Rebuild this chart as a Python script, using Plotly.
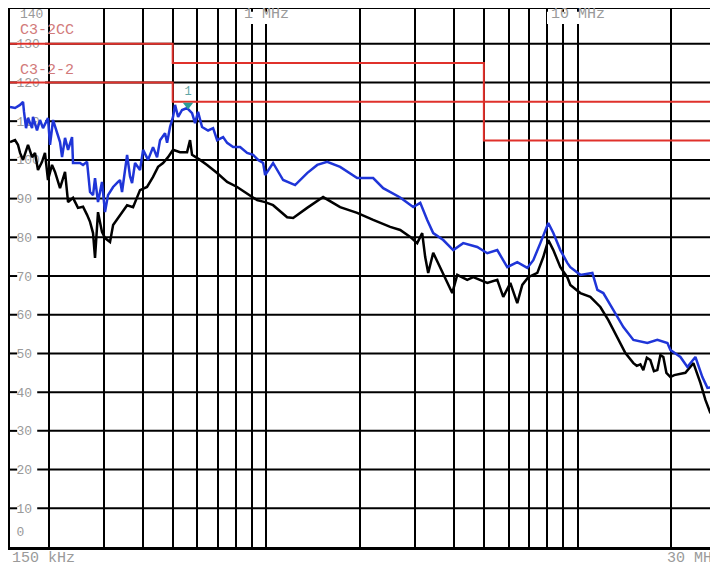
"""Conducted emission scan, 150 kHz - 30 MHz, peak and average traces with limits."""

import math

import plotly.graph_objects as go

# peak detector trace (blue): frequency in MHz, level in dBuV
PEAK_FREQ = [
    0.150, 0.1557, 0.1616, 0.1652, 0.1664, 0.1689, 0.1714, 0.1766, 0.1778, 0.1832,
    0.1873, 0.1915, 0.1987, 0.2017, 0.2063, 0.2124, 0.2172, 0.2205, 0.2254, 0.2305,
    0.2374, 0.2391, 0.2518, 0.2575, 0.2653, 0.2712, 0.2773, 0.2814, 0.2877, 0.2963,
    0.3030, 0.3098, 0.3217, 0.3337, 0.3386, 0.3437, 0.3513, 0.3568, 0.3646, 0.3702,
    0.3784, 0.3926, 0.4016, 0.4166, 0.4323, 0.4454, 0.4553, 0.4724, 0.4797, 0.4902,
    0.5012, 0.5087, 0.5204, 0.5358, 0.5561, 0.5770, 0.5899, 0.6032, 0.6213, 0.6497,
    0.6742, 0.6946, 0.7261, 0.7480, 0.7819, 0.8234, 0.8673, 0.9066, 0.9408, 0.9763,
    0.9908, 1.051, 1.132, 1.237, 1.352, 1.457, 1.568, 1.726, 1.958, 2.204,
    2.374, 2.692, 2.964, 3.123, 3.288, 3.437, 3.702, 3.986, 4.292, 4.761,
    5.128, 5.521, 5.945, 6.402, 6.895, 7.209, 7.594, 8.055, 8.360, 8.806,
    9.271, 9.480, 10.21, 11.16, 11.58, 12.10, 13.04, 14.04, 15.12, 16.77,
    18.05, 19.45, 19.88, 21.41, 22.54, 23.92, 25.19, 26.15, 27.33, 28.36,
    30.0,
]
PEAK_LEVEL = [
    113.7, 113.4, 114.2, 115.0, 112.4, 108.2, 110.8, 108.2, 111.1, 107.6,
    110.3, 108.2, 110.8, 103.9, 110.3, 107.2, 104.6, 100.7, 105.7, 102.6,
    105.9, 99.2, 99.2, 98.7, 99.5, 91.7, 90.9, 95.3, 89.1, 94.3,
    86.5, 90.9, 93.0, 94.3, 94.8, 91.7, 97.9, 101.3, 95.8, 94.0,
    99.2, 97.4, 102.6, 100.0, 103.3, 100.7, 105.1, 106.9, 104.4, 108.5,
    111.1, 114.2, 111.1, 112.9, 113.4, 112.1, 109.5, 112.4, 108.5, 107.6,
    108.2, 105.1, 105.9, 104.4, 103.3, 103.3, 101.8, 101.3, 100.0, 99.2,
    96.1, 99.2, 94.8, 93.5, 96.6, 98.7, 99.5, 98.2, 95.3, 95.3,
    92.7, 90.3, 87.8, 88.9, 84.5, 81.1, 79.3, 76.7, 78.5, 77.5,
    75.9, 76.7, 72.3, 73.6, 72.1, 74.1, 78.5, 83.7, 81.1, 76.7,
    73.4, 72.3, 70.3, 70.8, 66.4, 65.6, 61.2, 56.8, 53.5, 52.7,
    53.5, 52.7, 50.9, 49.1, 46.5, 49.1, 43.9, 41.1, 41.3, 45.0,
    46.5,
]

# average detector trace (black)
AVG_FREQ = [
    0.150, 0.1557, 0.1591, 0.1616, 0.1652, 0.1714, 0.1766, 0.1805, 0.1845, 0.1901,
    0.1943, 0.1987, 0.2047, 0.2093, 0.2172, 0.2254, 0.2305, 0.2391, 0.2481, 0.2575,
    0.2653, 0.2712, 0.2773, 0.2814, 0.2877, 0.2963, 0.3030, 0.3144, 0.3217, 0.3337,
    0.3462, 0.3568, 0.3729, 0.3926, 0.4135, 0.4323, 0.4487, 0.4656, 0.4831, 0.5012,
    0.5279, 0.5561, 0.5685, 0.5770, 0.6121, 0.6449, 0.6946, 0.7480, 0.8055, 0.8673,
    0.9339, 0.9908, 1.051, 1.166, 1.219, 1.352, 1.522, 1.726, 1.958, 2.204,
    2.500, 2.692, 2.835, 2.900, 3.053, 3.168, 3.239, 3.312, 3.437, 3.621,
    3.813, 3.957, 4.106, 4.421, 4.622, 5.128, 5.521, 5.771, 6.081, 6.402,
    6.644, 6.946, 7.426, 7.762, 8.055, 8.360, 8.806, 9.271, 9.480, 10.21,
    10.99, 11.84, 12.56, 13.43, 14.25, 15.12, 15.50, 15.92, 16.27, 16.70,
    17.14, 17.60, 18.05, 18.46, 18.87, 19.30, 19.88, 20.46, 22.21, 23.57,
    24.82, 25.76, 26.73, 27.74, 28.36, 30.0,
]
AVG_LEVEL = [
    104.6, 105.1, 103.9, 101.8, 100.0, 103.9, 100.7, 101.8, 97.4, 99.5,
    101.8, 94.8, 98.7, 96.9, 92.7, 96.9, 89.1, 90.2, 87.6, 87.9,
    85.8, 84.0, 81.1, 74.7, 86.5, 81.4, 79.8, 78.8, 83.2, 85.0,
    87.1, 88.3, 87.8, 92.2, 93.0, 95.6, 98.2, 99.2, 100.7, 102.6,
    102.0, 102.0, 105.1, 101.3, 100.0, 98.7, 96.6, 94.3, 93.0, 91.4,
    89.6, 89.1, 88.3, 85.2, 85.0, 87.6, 90.4, 87.8, 86.3, 84.5,
    82.7, 81.9, 80.6, 80.1, 78.5, 81.1, 74.9, 70.8, 76.0, 72.3,
    68.2, 65.6, 70.3, 69.0, 69.7, 68.2, 69.0, 64.6, 68.2, 63.0,
    67.7, 69.7, 70.8, 74.9, 79.3, 76.7, 72.3, 69.7, 67.7, 65.6,
    64.6, 62.0, 58.6, 54.2, 50.1, 47.5, 46.8, 47.2, 45.7, 48.9,
    48.3, 45.4, 45.7, 49.6, 49.1, 45.0, 43.9, 44.4, 45.0, 47.5,
    42.4, 38.0, 34.6, 36.2, 38.0, 39.5,
]

# limit lines
LIMIT_CC_NAME = "C3-2CC"
LIMIT_CC_FREQ = [0.15, 0.5, 0.5, 5.0, 5.0, 30.0]
LIMIT_CC_LEVEL = [130, 130, 125, 125, 105, 105]
LIMIT_22_NAME = "C3-2-2"
LIMIT_22_FREQ = [0.15, 0.5, 0.5, 30.0]
LIMIT_22_LEVEL = [120, 120, 115, 115]

MARKER_FREQ = [0.560]
MARKER_LEVEL = [114.2]
MARKER_TEXT = ["1"]

GRID_FREQS = [0.2, 0.3, 0.4, 0.5, 0.6, 0.7, 0.8, 0.9, 1, 2, 3, 4, 5, 6, 7, 8, 9, 10, 20]
GRID_LEVELS = [10, 20, 30, 40, 50, 60, 70, 80, 90, 100, 110, 120, 130]
LEVEL_LABEL_POS = [3.9, 10, 20, 30, 40, 50, 60, 70, 80, 90, 100, 110, 120, 130]
LEVEL_LABELS = ["0", "10", "20", "30", "40", "50", "60", "70", "80", "90",
                "100", "110", "120", "130"]
TOP_LABEL = "140"

MONO = "Liberation Mono"
LABEL_GREY = "#9a9a9a"
LIMIT_RED = "#e0312b"


def level_grid_shapes() -> list[dict]:
    """Horizontal grid lines, broken where the level labels sit."""
    shapes = []
    for level in GRID_LEVELS:
        gap_end = 0.038 if level < 100 else 0.049
        for x0, x1 in ((0, 0.010), (gap_end, 1)):
            shapes.append(dict(type="line", xref="paper", yref="y", x0=x0, x1=x1, y0=level, y1=level,
                               line=dict(color="black", width=2), layer="below"))
    # white patches where the decade labels interrupt the vertical lines
    for x0, x1 in ((0.3254, 0.391), (0.750, 0.831)):
        shapes.append(dict(type="rect", xref="paper", yref="paper", x0=x0, x1=x1, y0=0.972, y1=0.995,
                           fillcolor="white", line=dict(width=0), layer="above"))
    return shapes


def build_figure() -> go.Figure:
    fig = go.Figure()
    fig.add_trace(go.Scatter(x=LIMIT_CC_FREQ, y=LIMIT_CC_LEVEL, mode="lines",
                             line=dict(color=LIMIT_RED, width=2), name=LIMIT_CC_NAME))
    fig.add_trace(go.Scatter(x=LIMIT_22_FREQ, y=LIMIT_22_LEVEL, mode="lines",
                             line=dict(color=LIMIT_RED, width=2), name=LIMIT_22_NAME))
    fig.add_trace(go.Scatter(x=AVG_FREQ, y=AVG_LEVEL, mode="lines",
                             line=dict(color="black", width=2.5), name="AV"))
    fig.add_trace(go.Scatter(x=PEAK_FREQ, y=PEAK_LEVEL, mode="lines",
                             line=dict(color="#1f35d8", width=2.5), name="PK"))
    fig.add_trace(go.Scatter(x=MARKER_FREQ, y=MARKER_LEVEL, mode="markers+text", text=MARKER_TEXT,
                             textposition="top center",
                             textfont=dict(family=MONO, size=12, color="#5fa5a5"),
                             marker=dict(symbol="triangle-down", size=9, color="#2a9c98")))

    annotations = [
        dict(text=LIMIT_CC_NAME, xref="paper", x=0.011, xanchor="left", yref="y", y=133.3),
        dict(text=LIMIT_22_NAME, xref="paper", x=0.011, xanchor="left", yref="y", y=123.1),
    ]
    for a in annotations:
        a.update(showarrow=False, yanchor="middle", font=dict(family=MONO, size=15, color="#d27a7a"))

    annotations.append(dict(text=TOP_LABEL, xref="paper", x=0.0112, xanchor="left", yref="y", y=137.5,
                            yanchor="middle", showarrow=False,
                            font=dict(family=MONO, size=13, color=LABEL_GREY)))
    for text, xpos in (("1 MHz", 0.0), ("10 MHz", 1.0)):
        annotations.append(dict(text=text, xref="x", x=xpos, yref="paper", y=0.9905, yanchor="middle",
                                showarrow=False, font=dict(family=MONO, size=15, color=LABEL_GREY)))
    for text, xpos in (("150 kHz", 0.0), ("30 MHz", 0.915)):
        annotations.append(dict(text=text, xref="paper", x=xpos, xanchor="left", yref="paper", y=-0.0205,
                                yanchor="middle", showarrow=False,
                                font=dict(family=MONO, size=15, color=LABEL_GREY)))

    # the page body adds an 8 px offset, so the frame is pulled to the top-left
    # and the level range trimmed so the 10 dB lines land where the scan has them
    fig.update_layout(
        width=718,
        height=567,
        margin=dict(l=2, r=0, t=1, b=28),
        paper_bgcolor="white",
        plot_bgcolor="white",
        showlegend=False,
        shapes=level_grid_shapes(),
        annotations=annotations,
    )
    fig.update_xaxes(
        type="log",
        range=[math.log10(0.15), math.log10(30)],
        tickmode="array",
        tickvals=GRID_FREQS,
        showticklabels=False,
        ticks="",
        showgrid=True,
        gridcolor="black",
        gridwidth=2,
        showline=True,
        mirror=True,
        linecolor="black",
        linewidth=3,
        zeroline=False,
        automargin=False,
    )
    fig.update_yaxes(
        range=[0, 138.98],
        tickmode="array",
        tickvals=LEVEL_LABEL_POS,
        ticktext=LEVEL_LABELS,
        ticklabelposition="inside",
        ticklabelstandoff=6,
        ticks="",
        tickfont=dict(family=MONO, size=13, color=LABEL_GREY),
        showgrid=False,
        showline=True,
        linecolor="black",
        linewidth=3,
        zeroline=False,
        layer="below traces",
        automargin=False,
    )
    return fig


fig = build_figure()
fig.write_html("out.html")
